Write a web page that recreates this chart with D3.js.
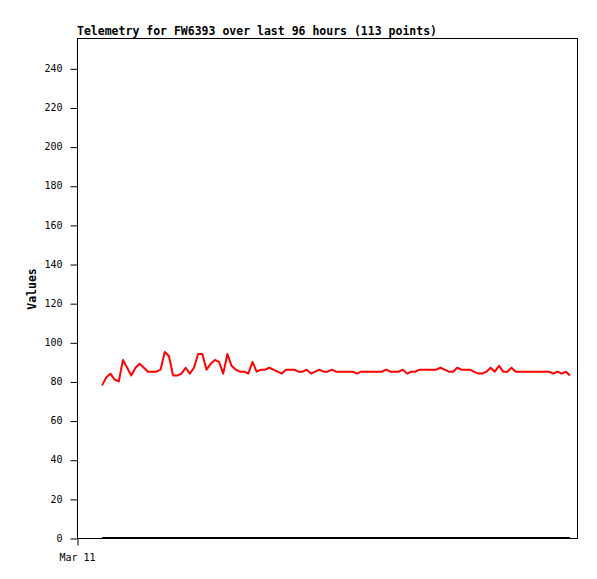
<!DOCTYPE html>
<html>
<head>
<meta charset="utf-8">
<script src="https://cdn.jsdelivr.net/npm/d3@7"></script>
<style>
  body { margin: 0; background: #fff; }
  svg { display: block; }
  text { font-family: "DejaVu Sans Mono", "Liberation Mono", monospace; }
</style>
</head>
<body>
<svg width="597" height="579"></svg>
<script>
// telemetry waarden, 113 punten
var values = [78, 82, 84, 81, 80, 91, 87, 83, 87, 89,
              87, 85, 85, 85, 86, 95, 93, 83, 83, 84,
              87, 84, 87, 94, 94, 86, 89, 91, 90, 84,
              94, 88, 86, 85, 85, 84, 90, 85, 86, 86,
              87, 86, 85, 84, 86, 86, 86, 85, 85, 86,
              84, 85, 86, 85, 85, 86, 85, 85, 85, 85,
              85, 84, 85, 85, 85, 85, 85, 85, 86, 85,
              85, 85, 86, 84, 85, 85, 86, 86, 86, 86,
              86, 87, 86, 85, 85, 87, 86, 86, 86, 85,
              84, 84, 85, 87, 85, 88, 85, 85, 87, 85,
              85, 85, 85, 85, 85, 85, 85, 85, 84, 85,
              84, 85, 83];
var baseline = values.map(function() { return 0; });

var yTicks = [0, 20, 40, 60, 80, 100, 120, 140, 160, 180, 200, 220, 240];
var xTickValues = [-6];
var xTickLabels = ["Mar 11"];

var title = "Telemetry for FW6393 over last 96 hours (113 points)";

var svg = d3.select("svg"),
    margin = {top: 38, right: 20, bottom: 41, left: 77},
    width = +svg.attr("width") - margin.left - margin.right,
    height = +svg.attr("height") - margin.top - margin.bottom;

var x = d3.scaleLinear().domain([-6, 113.67]).range([0, width]),
    y = d3.scaleLinear().domain([0, 255.5]).range([height, 0]);

var g = svg.append("g")
    .attr("transform", "translate(" + margin.left + "," + margin.top + ")");

// kader
g.append("rect")
    .attr("x", 0.5).attr("y", 0.5)
    .attr("width", width).attr("height", height)
    .attr("fill", "none")
    .attr("stroke", "#000")
    .attr("stroke-width", 1);

// y-as
g.append("g")
    .attr("transform", "translate(0.5,0)")
    .call(d3.axisLeft(y).tickValues(yTicks).tickSize(7).tickPadding(8))
    .call(function(a) {
      a.select(".domain").remove();
      a.selectAll("line").attr("stroke", "#000").attr("transform", "translate(0,0.5)");
      a.selectAll("text").style("font-size", "10px").attr("fill", "#000")
        .attr("font-family", "DejaVu Sans Mono");
    });

// x-as
g.append("g")
    .attr("transform", "translate(0," + (height + 0.5) + ")")
    .call(d3.axisBottom(x).tickValues(xTickValues)
      .tickFormat(function(d, i) { return xTickLabels[i]; })
      .tickSize(7).tickPadding(8))
    .call(function(a) {
      a.select(".domain").remove();
      a.selectAll("line").attr("stroke", "#000").attr("transform", "translate(0.5,0)");
      a.selectAll("text").style("font-size", "10px").attr("fill", "#000")
        .attr("font-family", "DejaVu Sans Mono");
    });

var line = d3.line()
    .x(function(d, i) { return x(i); })
    .y(function(d) { return y(d); });

// nul-lijn serie
g.append("path")
    .datum(baseline)
    .attr("fill", "none")
    .attr("stroke", "#000")
    .attr("stroke-width", 2)
    .attr("d", line);

// rode telemetrie lijn
g.append("path")
    .datum(values)
    .attr("fill", "none")
    .attr("stroke", "#ff0000")
    .attr("stroke-width", 2)
    .attr("stroke-linejoin", "round")
    .attr("d", line);

// y-as label
svg.append("text")
    .attr("transform", "translate(36," + (margin.top + height / 2 + 1) + ") rotate(-90)")
    .attr("text-anchor", "middle")
    .style("font-size", "11.5px")
    .style("font-weight", "bold")
    .text("Values");

// titel
svg.append("text")
    .attr("x", margin.left)
    .attr("y", 35)
    .style("font-size", "11.5px")
    .style("font-weight", "bold")
    .text(title);
</script>
</body>
</html>
